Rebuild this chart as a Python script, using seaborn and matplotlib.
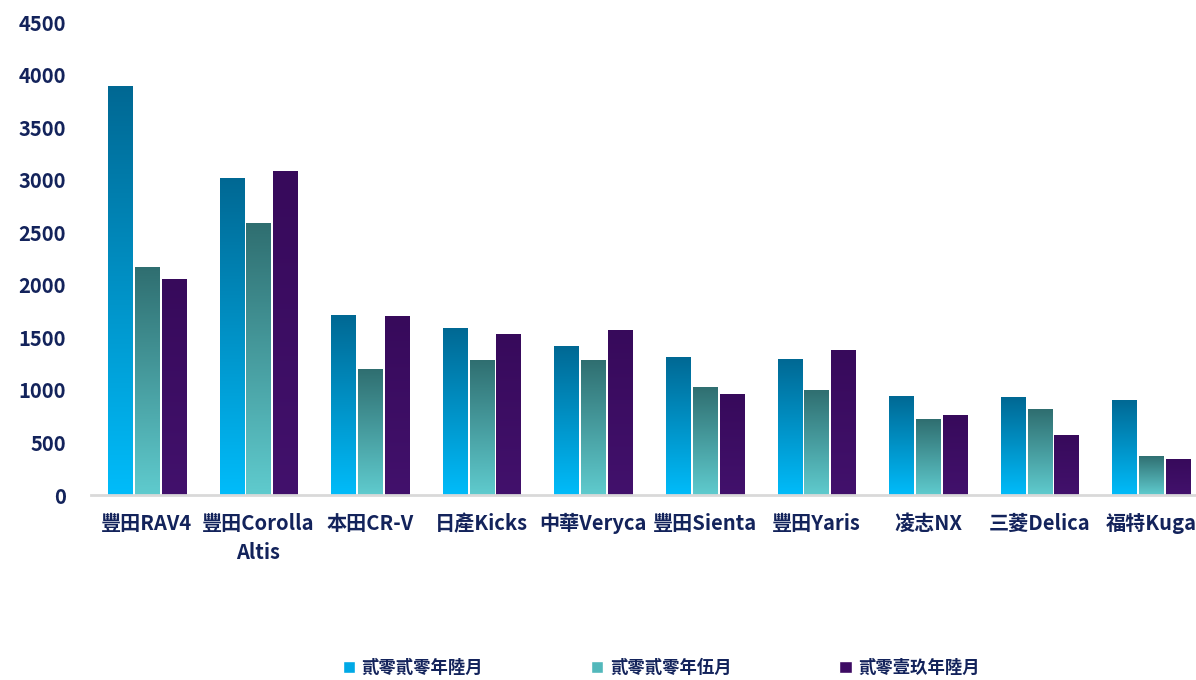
import numpy as np
import pandas as pd
import seaborn as sns
import matplotlib.pyplot as plt
from matplotlib.patches import Rectangle
from matplotlib.colors import LinearSegmentedColormap

# 車款與三個月份的銷量
models = ['豐田RAV4', '豐田Corolla\nAltis', '本田CR-V', '日產Kicks', '中華Veryca',
          '豐田Sienta', '豐田Yaris', '凌志NX', '三菱Delica', '福特Kuga']
series = ['貳零貳零年陸月', '貳零貳零年伍月', '貳零壹玖年陸月']
sales_2020_06 = [3890, 3016, 1713, 1589, 1418, 1313, 1294, 942, 932, 904]
sales_2020_05 = [2170, 2590, 1200, 1285, 1285, 1030, 1000, 723, 818, 372]
sales_2019_06 = [2055, 3083, 1705, 1532, 1570, 962, 1382, 762, 572, 345]

df = pd.DataFrame({
    'model': models * 3,
    'series': [series[0]] * 10 + [series[1]] * 10 + [series[2]] * 10,
    'sales': sales_2020_06 + sales_2020_05 + sales_2019_06,
})

# 漸層顏色 (底部 -> 頂部)
grad = {
    series[0]: ('#00bcfa', '#006893'),
    series[1]: ('#5fcbce', '#2f6e70'),
    series[2]: ('#42116c', '#370a5b'),
}
legend_colors = ['#00a9e6', '#52b8bb', '#3d0b63']
text_color = '#13235b'

sns.set_style('white')
plt.rcParams['font.family'] = ['Noto Sans CJK TC', 'DejaVu Sans']

fig = plt.figure(figsize=(11.96, 6.8), dpi=100)
ax = fig.add_axes([91 / 1196, 185 / 680, 1116 / 1196, 473 / 680])

sns.barplot(data=df, x='model', y='sales', hue='series', hue_order=series,
            palette=legend_colors, width=0.72, gap=0.1, ax=ax, saturation=1)

handles, labels = ax.get_legend_handles_labels()
ax.get_legend().remove()

# 用 imshow 疊上漸層
n = len(models)
bars = [p for p in ax.patches if isinstance(p, Rectangle) and p.get_width() > 0]
for i, p in enumerate(bars[:3 * n]):
    c0, c1 = grad[series[i // n]]
    x0, y0 = p.get_x(), p.get_y()
    w, h = p.get_width(), p.get_height()
    cm = LinearSegmentedColormap.from_list('g', [c0, c1])
    im = ax.imshow(np.linspace(0, 1, 256).reshape(-1, 1), cmap=cm, origin='lower',
                   extent=[x0, x0 + w, y0, y0 + h], aspect='auto', zorder=p.get_zorder())
    im.set_clip_path(p)
    p.set_facecolor('none')
    p.set_edgecolor('none')

ax.set_xlim(-0.5, 9.5)
ax.set_ylim(0, 4500)
ax.set_yticks(range(0, 4501, 500))
ax.set_xlabel('')
ax.set_ylabel('')
for sp in ['left', 'top', 'right']:
    ax.spines[sp].set_visible(False)
ax.spines['bottom'].set_color('#d9d9d9')
ax.spines['bottom'].set_linewidth(2)
ax.tick_params(axis='both', length=0, labelsize=14.5, labelcolor=text_color)
ax.tick_params(axis='y', pad=18)
ax.tick_params(axis='x', pad=13)
for t in ax.get_xticklabels() + ax.get_yticklabels():
    t.set_fontweight('bold')
for t in ax.get_xticklabels():
    t.set_linespacing(1.45)

fig.legend(handles, labels, loc='center', bbox_to_anchor=(0.553, 0.018), ncol=3,
           frameon=False, handlelength=0.7, handleheight=0.7, handletextpad=0.4,
           columnspacing=6.2, prop={'size': 12.5, 'weight': 'bold'}, labelcolor=text_color)

fig.savefig('out.png', dpi=100)
